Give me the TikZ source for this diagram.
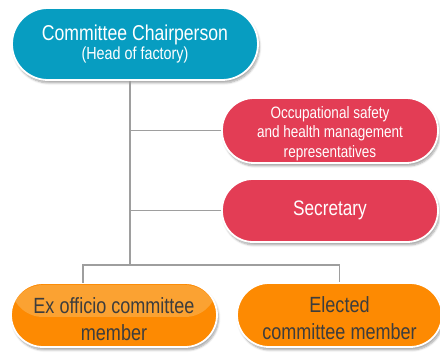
\documentclass[tikz,border=0pt]{standalone}
\usepackage{fontspec}
\setmainfont[FakeStretch=0.82]{Liberation Sans}
\usetikzlibrary{shadows.blur}
\definecolor{cblue}{HTML}{079DC1}
\definecolor{cpink}{HTML}{E33D55}
\definecolor{corange}{HTML}{FD8A02}
\definecolor{clorange}{HTML}{FBA232}
\definecolor{ctext}{HTML}{3D3D3D}
\definecolor{cline}{HTML}{9E9E9E}
\begin{document}
\begin{tikzpicture}[x=1pt,y=1pt,
  pill/.style={draw=white, line width=1.8pt, inner sep=0pt, align=center,
    blur shadow={shadow xshift=1.5pt, shadow yshift=-3pt, shadow blur steps=6, shadow opacity=35}},
  conn/.style={draw=cline, line width=1.2pt}]
\useasboundingbox (0,0) rectangle (440,353);
\node[pill, fill=cblue, text=white, minimum width=246pt, minimum height=72pt, rounded corners=36pt] (top) at (135,309)
  {\fontsize{21.5}{27}\selectfont Committee Chairperson\\[1pt]\fontsize{17.5}{21}\selectfont (Head of factory)};
\node[pill, fill=cpink, text=white, minimum width=216pt, minimum height=65pt, rounded corners=32pt,
  font=\fontsize{16.5}{19.5}\selectfont] (osh) at (330,222.5)
  {\rule{0pt}{18pt}Occupational safety\\ and health management\\ representatives};
\node[pill, fill=cpink, text=white, minimum width=216pt, minimum height=63pt, rounded corners=31pt,
  font=\fontsize{21}{25}\selectfont] (sec) at (330,142.5)
  {Secretary};
\node[pill, fill=corange, text=ctext, minimum width=206pt, minimum height=64pt, rounded corners=32pt,
  font=\fontsize{22}{27}\selectfont,
  path picture={\fill[clorange] ([yshift=-2pt]path picture bounding box.north west) rectangle ([yshift=-2pt]path picture bounding box.east);}] (exo) at (114,38)
  {\rule{0pt}{24pt}Ex officio committee\\ member};
\node[pill, fill=corange, text=ctext, minimum width=205pt, minimum height=64pt, rounded corners=32pt,
  font=\fontsize{22}{27}\selectfont] (ele) at (339.5,38)
  {\rule{0pt}{22pt}Elected\\ committee member};
\coordinate (trunk) at (130,88);
\coordinate (exotop) at (83,70);
\draw[conn] (top.south -| trunk) -- (trunk);
\draw[conn] (osh.west) -- (osh.west -| trunk);
\draw[conn] (sec.west) -- (sec.west -| trunk);
\draw[conn] (exotop) |- (trunk) -| (ele.north);
\end{tikzpicture}
\end{document}
